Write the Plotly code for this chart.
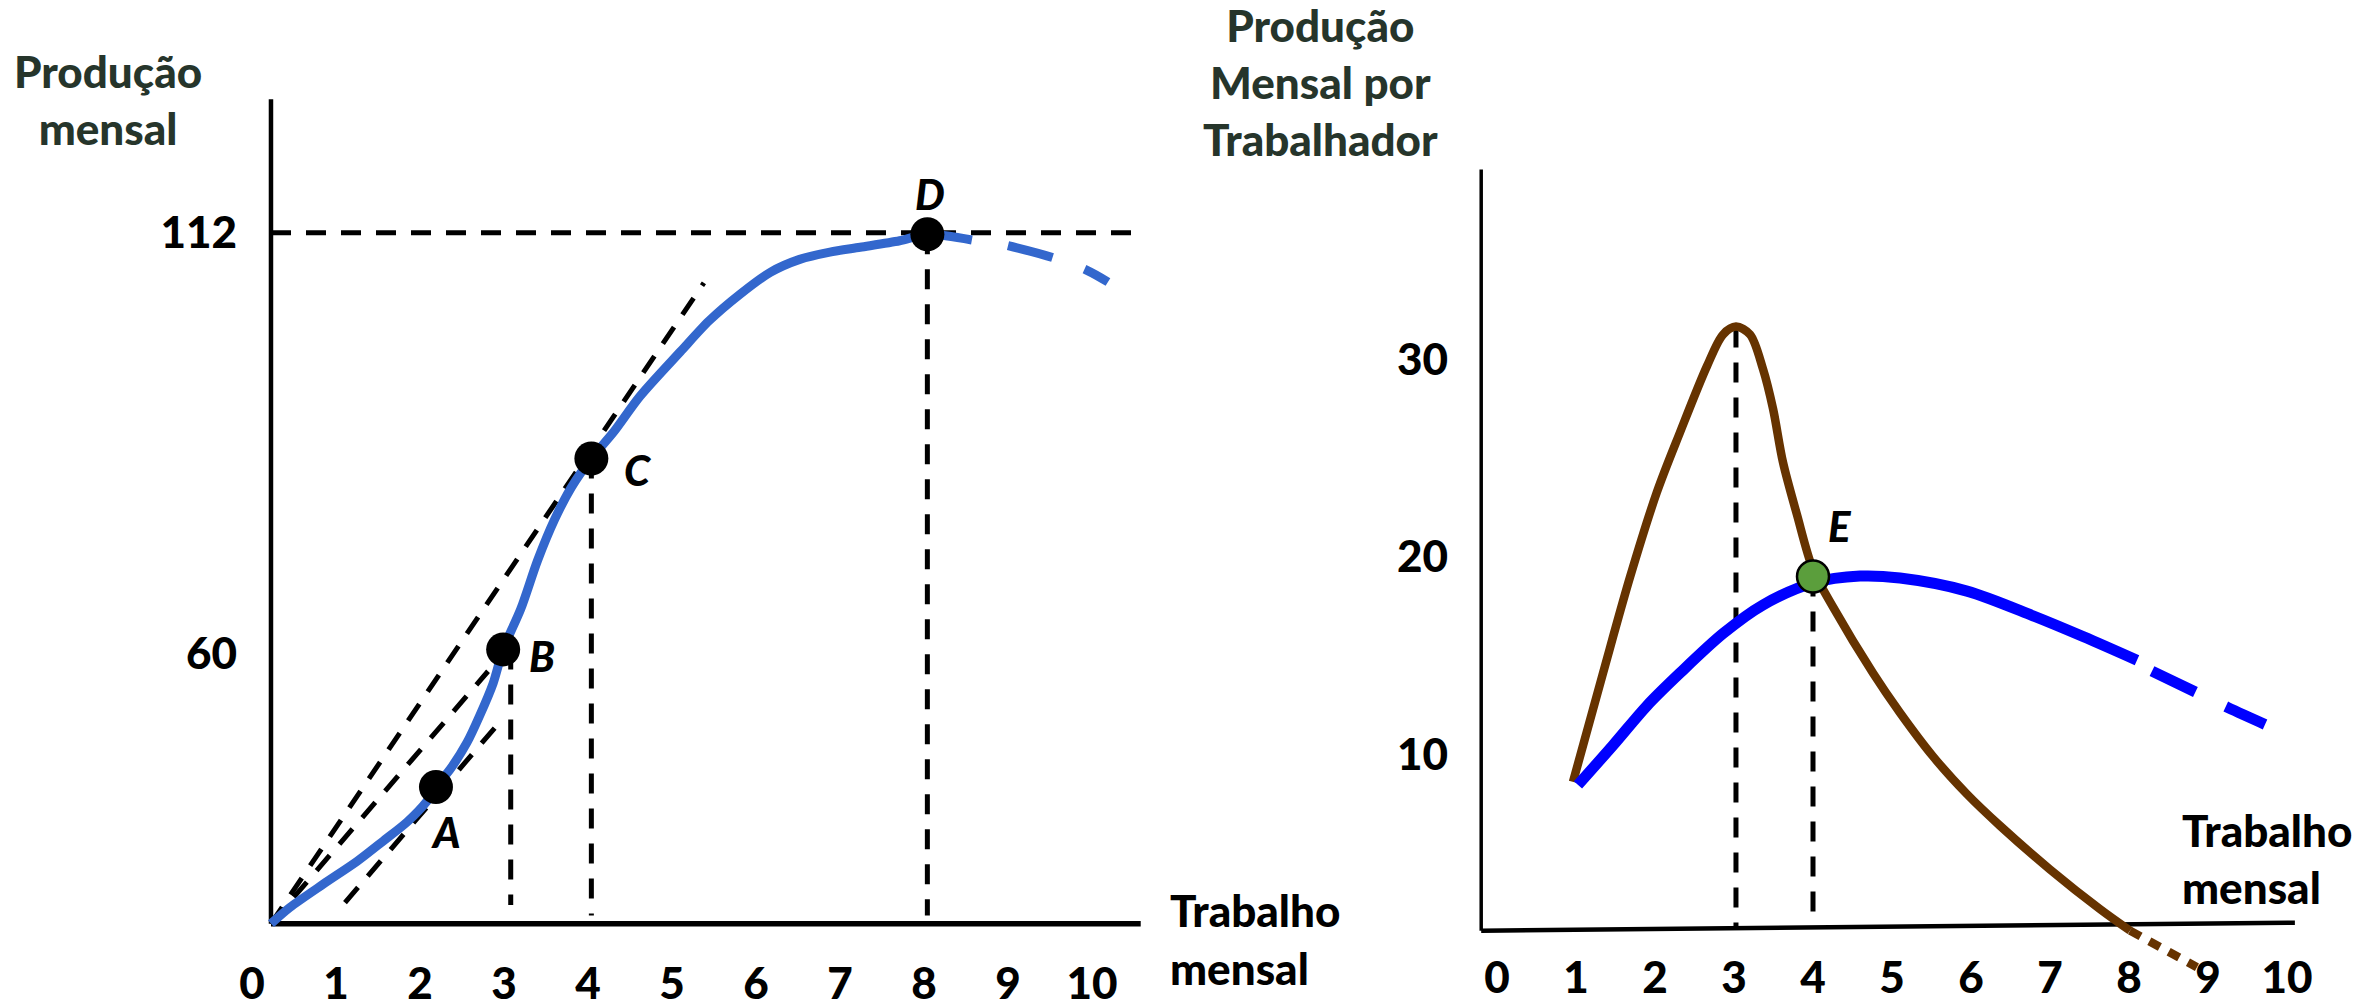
import plotly.graph_objects as go

W, H = 2364, 1008

# ---------------- LEFT PANEL DATA (Produção mensal x Trabalho mensal) ----------------
left_x_ticks = list(range(11))
left_x_ticktext = [str(v) for v in left_x_ticks]
left_y_ticks = [60, 112]
left_y_ticktext = ["60", "112"]

# total product curve (solid part)
tp_x = [0.226, 0.45, 0.85, 1.25, 1.56, 1.85, 2.08, 2.19, 2.36, 2.56, 2.71, 2.87, 2.99,
        3.2, 3.4, 3.6, 3.8, 4.04, 4.3, 4.62, 5.1, 5.44, 5.81, 6.17, 6.52, 6.88, 7.24,
        7.71, 8.04, 8.57]
tp_y = [26.6, 28.6, 31.5, 34.3, 36.8, 39.2, 41.7, 43.5, 45.7, 49.0, 52.3, 56.3, 60.5,
        65.5, 71.5, 76.5, 80.5, 84.1, 87.3, 91.8, 97.3, 101.1, 104.4, 107.1, 108.7, 109.6,
        110.2, 111.0, 111.8, 111.1]
# total product curve (dashed continuation)
tp_tail_x = [9.0, 9.54, 9.94, 10.19]
tp_tail_y = [110.4, 108.9, 107.35, 105.9]

# labelled points
pt_labels = ["A", "B", "C", "D"]
pt_x = [2.19, 2.99, 4.04, 8.04]
pt_y = [43.5, 60.5, 84.1, 111.8]

# dashed rays / tangents
tan_x0 = [0.226, 0.226, 1.107]
tan_y0 = [26.6, 26.6, 29.2]
tan_x1 = [5.38, 2.81, 2.89]
tan_y1 = [105.8, 57.8, 50.8]

# dashed drop lines and the 112 level line
drop_x = [3.08, 4.04, 8.04]
drop_top = [60.5, 84.1, 111.8]
drop_bottom = [28.9, 27.6, 27.6]
level_y = 112
level_x = [0.226, 10.6]

# axis extents (data units of the left panel)
L_AX_X, L_AX_Y, L_X_END, L_Y_END = 0.226, 26.6, 10.58, 128.5

# ---------------- RIGHT PANEL DATA (Produção mensal por trabalhador) ----------------
right_x_ticks = list(range(11))
right_x_ticktext = [str(v) for v in right_x_ticks]
right_y_ticks = [10, 20, 30]
right_y_ticktext = ["10", "20", "30"]

# marginal product (brown)
mp_x = [0.962, 1.342, 1.684, 2.025, 2.316, 2.658, 2.861, 3.025, 3.203, 3.367, 3.494,
        3.62, 3.797, 4.0, 4.253, 4.759, 5.101, 5.519, 5.949, 6.367, 7.0, 7.633, 8.013]
mp_y = [8.6, 14.11, 18.97, 23.28, 26.29, 29.65, 31.25, 31.65, 31.25, 29.5, 27.49,
        24.78, 22.13, 19.36, 17.46, 14.11, 12.1, 9.89, 7.98, 6.38, 4.17, 2.16, 1.07]
mp_tail_x = [8.013, 8.86]
mp_tail_y = [1.07, -0.78]

# average product (blue)
ap_x = [1.025, 1.468, 1.899, 2.316, 2.861, 3.367, 4.0, 4.595, 5.101, 5.949, 6.785, 7.418, 8.101]
ap_y = [8.45, 10.45, 12.46, 14.11, 16.11, 17.56, 18.67, 19.02, 18.92, 18.26, 17.01, 15.96, 14.76]
ap_tail_x = [8.291, 8.861, 9.253, 9.722]
ap_tail_y = [14.21, 13.11, 12.36, 11.51]

e_label = ["E"]
e_x = [4.0]
e_y = [19.0]

r_drop_x = [3.025, 4.0]
r_drop_top = [31.6, 19.0]
r_drop_bottom = [1.1, 1.15]

R_AX_X, R_AX_Y0, R_Y_END, R_X_END, R_AX_Y1 = -0.2, 1.07, 39.6, 10.1, 1.47

# ---------------- pixel geometry of the two panels ----------------
# left: px = 252 + 84*x ; py = 235 + 8.173*(112 - y)
LX0, LXS, LY0, LYS = 252.0, 84.0, 235.0, 8.173
# right: px = 1497 + 79*x ; py = 562.3 + 19.95*(20 - y)
RX0, RXS, RY0, RYS = 1497.0, 79.0, 562.3, 19.95

L_BOX = (200, 1200, 60, 1008)   # x0, x1, ytop, ybottom in px
R_BOX = (1440, 2364, 150, 1008)


def lx(px):
    return (px - LX0) / LXS


def ly(py):
    return 112 - (py - LY0) / LYS


def rx(px):
    return (px - RX0) / RXS


def ry(py):
    return 20 - (py - RY0) / RYS


DARK = "#26352B"
LBLUE = "#3367CD"
RBLUE = "#0000FF"
BROWN = "#663300"
FONT = "Lato"
GUIDE_DASH = "20px,15px"
GW = 5

fig = go.Figure()

# ---- left panel guides ----
for x0, y0, x1, y1 in zip(tan_x0, tan_y0, tan_x1, tan_y1):
    fig.add_trace(go.Scatter(x=[x0, x1], y=[y0, y1], mode="lines",
                             line=dict(color="black", width=GW, dash=GUIDE_DASH),
                             xaxis="x", yaxis="y", hoverinfo="skip"))
for xv, t, b in zip(drop_x, drop_top, drop_bottom):
    fig.add_trace(go.Scatter(x=[xv, xv], y=[t, b], mode="lines",
                             line=dict(color="black", width=GW, dash=GUIDE_DASH),
                             xaxis="x", yaxis="y", hoverinfo="skip"))
fig.add_trace(go.Scatter(x=level_x, y=[level_y, level_y], mode="lines",
                         line=dict(color="black", width=GW, dash=GUIDE_DASH),
                         xaxis="x", yaxis="y", hoverinfo="skip"))

# ---- left panel curve ----
fig.add_trace(go.Scatter(x=tp_x, y=tp_y, mode="lines",
                         line=dict(color=LBLUE, width=9, shape="spline", smoothing=0.8),
                         xaxis="x", yaxis="y", hoverinfo="skip"))
fig.add_trace(go.Scatter(x=tp_tail_x, y=tp_tail_y, mode="lines",
                         line=dict(color=LBLUE, width=9, shape="spline", dash="46px,34px"),
                         xaxis="x", yaxis="y", hoverinfo="skip"))
fig.add_trace(go.Scatter(x=pt_x, y=pt_y, mode="markers",
                         marker=dict(color="black", size=34),
                         cliponaxis=False, xaxis="x", yaxis="y", hoverinfo="skip"))

# ---- right panel guides ----
for xv, t, b in zip(r_drop_x, r_drop_top, r_drop_bottom):
    fig.add_trace(go.Scatter(x=[xv, xv], y=[t, b], mode="lines",
                             line=dict(color="black", width=GW, dash=GUIDE_DASH),
                             xaxis="x2", yaxis="y2", hoverinfo="skip"))

# ---- right panel curves ----
fig.add_trace(go.Scatter(x=mp_x, y=mp_y, mode="lines",
                         line=dict(color=BROWN, width=8.5, shape="spline", smoothing=0.9),
                         xaxis="x2", yaxis="y2", hoverinfo="skip"))
fig.add_trace(go.Scatter(x=mp_tail_x, y=mp_tail_y, mode="lines",
                         line=dict(color=BROWN, width=8.5, dash="12px,10px"),
                         xaxis="x2", yaxis="y2", hoverinfo="skip"))
fig.add_trace(go.Scatter(x=ap_x, y=ap_y, mode="lines",
                         line=dict(color=RBLUE, width=11, shape="spline", smoothing=0.9),
                         xaxis="x2", yaxis="y2", hoverinfo="skip"))
fig.add_trace(go.Scatter(x=ap_tail_x, y=ap_tail_y, mode="lines",
                         line=dict(color=RBLUE, width=11, shape="spline", dash="48px,34px"),
                         xaxis="x2", yaxis="y2", hoverinfo="skip"))
fig.add_trace(go.Scatter(x=e_x, y=e_y, mode="markers",
                         marker=dict(color="#5B9E3C", size=32, line=dict(color="black", width=2.5)),
                         cliponaxis=False, xaxis="x2", yaxis="y2", hoverinfo="skip"))

# ---- axis lines ----
shapes = [
    dict(type="line", xref="x", yref="y", x0=L_AX_X, y0=L_AX_Y, x1=L_AX_X, y1=L_Y_END,
         line=dict(color="black", width=4.5), layer="below"),
    dict(type="line", xref="x", yref="y", x0=L_AX_X, y0=L_AX_Y, x1=L_X_END, y1=L_AX_Y,
         line=dict(color="black", width=5.5), layer="below"),
    dict(type="line", xref="x2", yref="y2", x0=R_AX_X, y0=R_AX_Y0, x1=R_AX_X, y1=R_Y_END,
         line=dict(color="black", width=3.5), layer="below"),
    dict(type="line", xref="x2", yref="y2", x0=R_AX_X, y0=R_AX_Y0, x1=R_X_END, y1=R_AX_Y1,
         line=dict(color="black", width=4.5), layer="below"),
]

# ---- text ----
label_font = dict(family=FONT, size=42, color="black", weight=900, style="italic")
label_shift = {"A": (10, -45), "B": (39, -7), "C": (47, -12), "D": (3, 40), "E": (27, 50)}
annotations = []
for lab, xv, yv in zip(pt_labels, pt_x, pt_y):
    dx, dy = label_shift[lab]
    annotations.append(dict(x=xv, y=yv, xref="x", yref="y", text=lab, showarrow=False,
                            xshift=dx, yshift=dy, font=label_font,
                            xanchor="center", yanchor="middle"))
for lab, xv, yv in zip(e_label, e_x, e_y):
    dx, dy = label_shift[lab]
    annotations.append(dict(x=xv, y=yv, xref="x2", yref="y2", text=lab, showarrow=False,
                            xshift=dx, yshift=dy, font=label_font,
                            xanchor="center", yanchor="middle"))

title_font = dict(family=FONT, size=44, color=DARK, weight=900)
black_font = dict(family=FONT, size=44, color="black", weight=900)
annotations += [
    dict(x=108 / W, y=1 - 100 / H, xref="paper", yref="paper", text="Produção<br>mensal",
         showarrow=False, font=title_font, xanchor="center", yanchor="middle", align="center"),
    dict(x=1320 / W, y=1 - 83 / H, xref="paper", yref="paper",
         text="Produção<br>Mensal por<br>Trabalhador",
         showarrow=False, font=title_font, xanchor="center", yanchor="middle", align="center"),
    dict(x=1168 / W, y=1 - 919 / H, xref="paper", yref="paper", text="Trabalho",
         showarrow=False, font=black_font, xanchor="left", yanchor="middle", align="left"),
    dict(x=1168 / W, y=2 / H, xref="paper", yref="paper", text="mensal",
         showarrow=False, font=black_font, xanchor="left", yanchor="bottom", align="left"),
    dict(x=2180 / W, y=1 - 867 / H, xref="paper", yref="paper", text="Trabalho<br>mensal",
         showarrow=False, font=black_font, xanchor="left", yanchor="middle", align="left"),
]

tick_font = dict(family=FONT, size=44, color="black", weight=900)
common = dict(showgrid=False, zeroline=False, showline=False, ticks="", fixedrange=True,
              tickfont=tick_font, anchor="free", tickmode="array")

fig.update_layout(
    width=W, height=H,
    margin=dict(l=0, r=0, t=0, b=0),
    paper_bgcolor="white", plot_bgcolor="rgba(0,0,0,0)",
    showlegend=False,
    xaxis=dict(domain=[L_BOX[0] / W, L_BOX[1] / W], range=[lx(L_BOX[0]), lx(L_BOX[1])],
               position=1 - 933 / H, tickvals=left_x_ticks, ticktext=left_x_ticktext,
               ticklabelstandoff=30, **common),
    yaxis=dict(domain=[1 - L_BOX[3] / H, 1 - L_BOX[2] / H], range=[ly(L_BOX[3]), ly(L_BOX[2])],
               position=271 / W, tickvals=left_y_ticks, ticktext=left_y_ticktext,
               ticklabelstandoff=34, **common),
    xaxis2=dict(domain=[R_BOX[0] / W, R_BOX[1] / W], range=[rx(R_BOX[0]), rx(R_BOX[1])],
                position=1 - 937 / H, tickvals=right_x_ticks, ticktext=right_x_ticktext,
                ticklabelstandoff=20, **common),
    yaxis2=dict(domain=[1 - R_BOX[3] / H, 1 - R_BOX[2] / H], range=[ry(R_BOX[3]), ry(R_BOX[2])],
                position=1481 / W, tickvals=right_y_ticks, ticktext=right_y_ticktext,
                ticklabelstandoff=33, **common),
    shapes=shapes,
    annotations=annotations,
)

fig.write_html("out.html", config={"displayModeBar": False, "staticPlot": True},
               post_script="document.body.style.margin='0';document.body.style.overflow='hidden';")
